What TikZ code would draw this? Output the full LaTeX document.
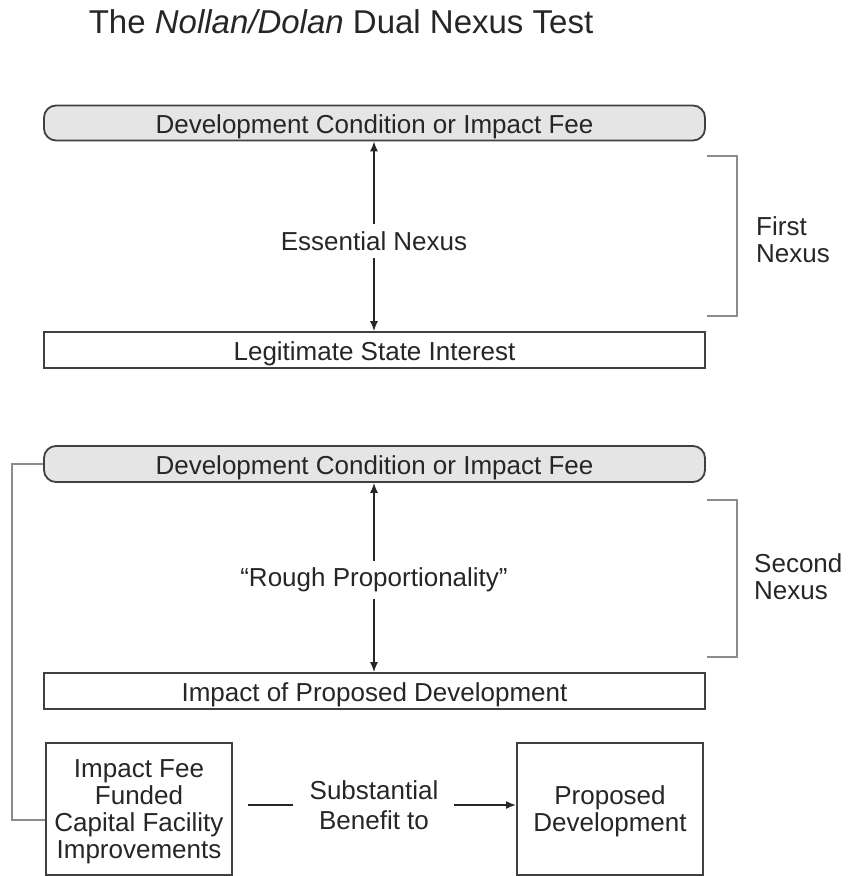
\documentclass[tikz,border=0pt]{standalone}
\usepackage{fontspec}
\setmainfont{Liberation Sans}
\usepackage{tikz}
\usetikzlibrary{arrows.meta}
\definecolor{boxgray}{gray}{0.9}
\definecolor{edgegray}{gray}{0.25}
\definecolor{wiregray}{gray}{0.55}

\begin{document}
\begin{tikzpicture}[x=1pt, y=-1pt,
	every node/.style={font=\fontsize{26}{28}\selectfont, text=black!85},
	condbox/.style={draw=edgegray, line width=1.8pt, fill=boxgray, rounded corners=12pt, minimum width=661pt, minimum height=35pt, inner sep=0pt, text height=20pt, text depth=0pt},
	basebox/.style={draw=edgegray, line width=1.8pt, fill=white, minimum width=661pt, minimum height=36pt, inner sep=0pt, text height=20pt, text depth=0pt},
	sidebox/.style={draw=edgegray, line width=1.8pt, fill=white, minimum width=186pt, minimum height=132pt, inner sep=0pt, align=center, text depth=-4.5pt, font=\fontsize{26}{27}\selectfont},
	nexuslabel/.style={inner sep=7pt},
	sidelabel/.style={align=left, anchor=west, inner sep=0pt, font=\fontsize{26}{27.5}\selectfont},
	link/.style={line width=1.5pt, draw=black!85, -{Latex[length=10pt,width=8pt]}},
	bracketline/.style={line width=1.3pt, draw=wiregray}]
					\useasboundingbox (0,0) rectangle (849,876);
					\node (title) at (341,22) {\fontsize{33}{36}\selectfont The \textit{Nollan/Dolan} Dual Nexus Test};
					
					% first nexus
					\node[condbox] (cond1) at (374.5,123) {Development Condition or Impact Fee};
					\node[basebox] (legit) at (374.5,350) {Legitimate State Interest};
					\node[nexuslabel] (ess) at (374,241) {Essential Nexus};
					\draw[link] (ess.north) -- (ess.north |- cond1.south);
					\draw[link] (ess.south) -- (ess.south |- legit.north);
					\draw[bracketline] (707,156) -- (737,156) -- (737,316) -- (707,316);
					\node[sidelabel] (first) at (756,239.5) {First\\Nexus};
					
					% second nexus
					\node[condbox, minimum height=36pt] (cond2) at (374.5,464) {Development Condition or Impact Fee};
					\node[basebox] (impact) at (374.5,691) {Impact of Proposed Development};
					\node[nexuslabel] (rough) at (374,580) {“Rough Proportionality”};
					\draw[link] (rough.north) -- (rough.north |- cond2.south);
					\draw[link] (rough.south) -- (rough.south |- impact.north);
					\draw[bracketline] (707,500) -- (737,500) -- (737,657) -- (707,657);
					\node[sidelabel] (second) at (754,576.5) {Second\\Nexus};
					
					% benefit
					\node[sidebox] (fund) at (139,809) {Impact Fee\\Funded\\Capital Facility\\Improvements};
					\node[sidebox] (prop) at (610,809) {Proposed\\Development};
					\node[align=center, inner sep=0pt, font=\fontsize{26}{30}\selectfont] (benefit) at (374,805) {Substantial\\Benefit to};
					\draw[line width=1.8pt, draw=black!85] ([xshift=15pt]fund.east |- benefit.west) -- ([xshift=-16pt]benefit.west);
					\draw[link, line width=1.8pt] ([xshift=15pt]benefit.east) -- (prop.west |- benefit.east);
					\draw[bracketline] (cond2.west) -- ++(-31,0) |- ([yshift=-11pt]fund.west);
				\end{tikzpicture}
\end{document}
